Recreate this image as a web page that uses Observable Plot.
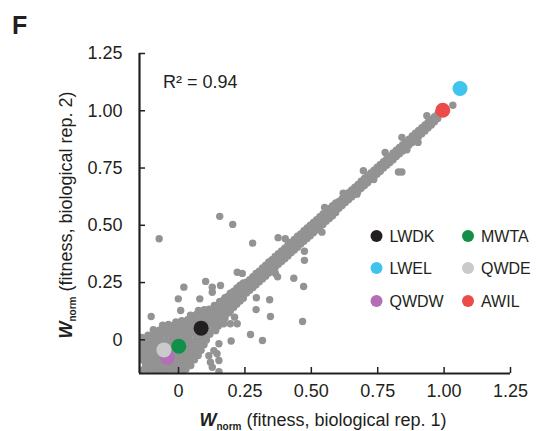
<!DOCTYPE html>
<html><head><meta charset="utf-8">
<script src="https://cdn.jsdelivr.net/npm/d3@7"></script>
<script src="https://cdn.jsdelivr.net/npm/@observablehq/plot@0.6"></script>
<style>body{margin:0;background:#fff}#chart svg{display:block}</style>
</head><body><div id="chart"></div>
<script>
// ---- data (rep1, rep2) ----
const cloud = [
[-0.135,-0.132],[-0.113,-0.130],[-0.091,-0.133],[-0.069,-0.131],[-0.047,-0.134],[-0.025,-0.130],[-0.003,-0.132],[0.019,-0.131],[0.028,-0.128],
[-0.124,-0.110],[-0.102,-0.112],[-0.080,-0.108],[-0.058,-0.111],[-0.036,-0.109],[-0.014,-0.112],[0.008,-0.110],[0.030,-0.108],[0.046,-0.112],
[-0.135,-0.088],[-0.113,-0.090],[-0.091,-0.086],[-0.069,-0.089],[-0.047,-0.087],[-0.025,-0.090],[-0.003,-0.088],[0.019,-0.086],[0.041,-0.089],[0.060,-0.087],
[-0.140,-0.060],[-0.124,-0.066],[-0.102,-0.064],[-0.080,-0.067],[-0.058,-0.065],[-0.036,-0.068],[-0.014,-0.066],[0.008,-0.064],[0.030,-0.067],[0.052,-0.065],[0.074,-0.068],
[-0.135,-0.044],[-0.113,-0.046],[-0.091,-0.043],[-0.069,-0.045],[-0.047,-0.042],[-0.025,-0.046],[-0.003,-0.044],[0.019,-0.042],[0.041,-0.045],[0.063,-0.043],[0.085,-0.046],
[-0.140,-0.018],[-0.124,-0.022],[-0.102,-0.020],[-0.080,-0.023],[-0.058,-0.021],[-0.036,-0.024],[-0.014,-0.022],[0.008,-0.020],[0.030,-0.023],[0.052,-0.021],[0.074,-0.024],[0.096,-0.022],
[-0.135,0.000],[-0.113,-0.002],[-0.091,0.002],[-0.069,0.000],[-0.047,-0.002],[-0.025,0.001],[-0.003,-0.001],[0.019,0.002],[0.041,0.000],[0.063,-0.002],[0.085,0.001],[0.105,-0.001],
[-0.138,0.010],[-0.115,0.020],[-0.093,0.023],[-0.071,0.021],[-0.049,0.024],[-0.027,0.022],[-0.005,0.020],[0.017,0.023],[0.039,0.021],[0.061,0.024],[0.083,0.022],[0.105,0.020],[0.118,0.024],
[-0.095,0.044],[-0.073,0.042],[-0.051,0.046],[-0.029,0.043],[-0.007,0.045],[0.015,0.042],[0.037,0.046],[0.059,0.043],[0.081,0.045],[0.103,0.042],[0.124,0.046],
[-0.060,0.064],[-0.038,0.067],[-0.016,0.065],[0.006,0.068],[0.028,0.064],[0.050,0.066],[0.072,0.068],[0.094,0.065],[0.116,0.067],[0.132,0.064],
[-0.010,0.078],[0.012,0.084],[0.034,0.088],[0.056,0.090],[0.078,0.087],[0.100,0.089],[0.122,0.086],[0.138,0.090],
[0.045,0.108],[0.067,0.111],[0.089,0.109],[0.111,0.112],[0.133,0.110],[0.150,0.112],
[0.075,0.128],[0.097,0.131],[0.119,0.129],[0.141,0.132],[0.160,0.135],
[0.140,0.040],[0.150,0.060],[0.162,0.075],[0.175,0.095],[0.190,0.118]
];
const band = [
[0.100,0.030],[0.100,0.055],[0.100,0.080],[0.100,0.102],
[0.112,0.044],[0.112,0.066],[0.112,0.092],[0.112,0.114],
[0.124,0.052],[0.124,0.080],[0.124,0.103],[0.124,0.128],
[0.136,0.068],[0.136,0.092],[0.136,0.118],[0.136,0.138],
[0.148,0.078],[0.148,0.104],[0.148,0.128],[0.148,0.152],
[0.160,0.092],[0.160,0.118],[0.160,0.140],[0.160,0.162],
[0.172,0.104],[0.172,0.130],[0.172,0.152],[0.172,0.176],
[0.184,0.118],[0.184,0.142],[0.184,0.166],[0.184,0.188],
[0.196,0.128],[0.196,0.155],[0.196,0.178],[0.196,0.200],
[0.208,0.142],[0.208,0.168],[0.208,0.192],[0.208,0.212],
[0.220,0.156],[0.220,0.180],[0.220,0.204],[0.220,0.226],
[0.232,0.170],[0.232,0.192],[0.232,0.216],[0.232,0.238],
[0.244,0.182],[0.244,0.205],[0.244,0.228],[0.244,0.248],
[0.095,0.120],[0.115,0.134],[0.135,0.150],[0.155,0.168],[0.175,0.184],[0.195,0.204],
[0.256,0.204],[0.256,0.226],[0.256,0.252],
[0.268,0.216],[0.268,0.240],[0.268,0.262],
[0.280,0.228],[0.280,0.255],[0.280,0.276],
[0.292,0.240],[0.292,0.264],[0.292,0.290],
[0.304,0.254],[0.304,0.280],[0.304,0.300],
[0.316,0.266],[0.316,0.290],[0.316,0.314],
[0.328,0.278],[0.328,0.305],[0.328,0.326],
[0.340,0.292],[0.340,0.316],[0.340,0.340],
[0.352,0.304],[0.352,0.330],[0.352,0.350],
[0.364,0.316],[0.364,0.340],[0.364,0.364],
[0.376,0.330],[0.376,0.352],[0.376,0.376],
[0.388,0.342],[0.388,0.366],[0.388,0.388],
[0.400,0.354],[0.400,0.378],[0.400,0.400],
[0.412,0.366],[0.412,0.392],[0.412,0.414],
[0.424,0.380],[0.424,0.402],[0.424,0.426],
[0.436,0.392],[0.436,0.416],[0.436,0.438],
[0.448,0.404],[0.448,0.428],[0.448,0.452],
[0.460,0.418],[0.460,0.440],[0.460,0.462],
[0.472,0.430],[0.472,0.454],[0.472,0.476],
[0.484,0.442],[0.484,0.466],[0.484,0.488],
[0.496,0.454],[0.496,0.478],[0.496,0.500],
[0.508,0.468],[0.508,0.490],[0.508,0.512],
[0.520,0.480],[0.520,0.504],[0.520,0.524],
[0.532,0.492],[0.532,0.516],[0.532,0.538],
[0.544,0.504],[0.544,0.528],[0.544,0.550],
[0.556,0.518],[0.556,0.540],[0.556,0.562],
[0.568,0.530],[0.568,0.552],[0.568,0.574],
[0.580,0.542],[0.580,0.566],[0.580,0.586],
[0.592,0.556],[0.592,0.578],[0.592,0.598],
[0.604,0.574],[0.604,0.604],[0.616,0.586],[0.616,0.616],
[0.628,0.600],[0.628,0.628],[0.640,0.612],[0.640,0.642],
[0.652,0.624],[0.652,0.654],[0.664,0.636],[0.664,0.666],
[0.676,0.650],[0.676,0.678],[0.688,0.662],[0.688,0.692],
[0.700,0.674],[0.700,0.704],[0.712,0.686],[0.712,0.716],
[0.724,0.700],[0.724,0.728],[0.736,0.712],[0.736,0.740],
[0.748,0.724],[0.748,0.754],[0.760,0.736],[0.760,0.766],
[0.772,0.750],[0.772,0.778],[0.784,0.762],[0.784,0.790],
[0.796,0.774],[0.796,0.802],[0.808,0.786],[0.808,0.816],
[0.820,0.800],[0.820,0.828],[0.832,0.812],[0.832,0.840],
[0.844,0.824],[0.844,0.852],[0.856,0.838],[0.856,0.864],
[0.868,0.850],[0.868,0.876],[0.880,0.862],[0.880,0.890],
[0.892,0.874],[0.892,0.902],[0.904,0.888],[0.904,0.914],
[0.916,0.900],[0.916,0.926],[0.928,0.912],[0.928,0.938],
[0.940,0.926],[0.940,0.950],[0.952,0.938],[0.952,0.962],
[0.964,0.952],[0.964,0.974],[0.976,0.966],[0.976,0.986],
[0.696,0.738],[0.778,0.818],[0.841,0.884],[0.935,0.978],[0.672,0.636],[0.902,0.862],
[0.620,0.640],[0.550,0.578],[0.735,0.700],[0.860,0.830],[0.221,0.295],[0.240,0.290],
[0.365,0.290],[0.373,0.275]
];
const outliers = [
[-0.073,0.441],[0.155,0.539],[0.204,0.504],[0.279,0.422],[0.375,0.446],[0.402,0.441],
[0.474,0.387],[0.474,0.347],[0.434,0.269],[0.471,0.233],[0.467,0.080],[0.293,0.184],
[0.343,0.175],[0.292,0.132],[0.346,0.102],[0.316,-0.003],[0.271,0.023],[0.102,0.255],
[0.127,0.230],[0.158,0.237],[0.127,0.208],[0.020,0.230],[-0.001,0.179],[0.080,0.179],
[0.008,0.128],[-0.103,0.102],[0.211,0.099],[0.152,0.077],[0.170,0.070],[0.195,0.070],
[0.221,0.070],[0.152,-0.017],[0.198,-0.005],[0.133,-0.047],[0.145,-0.061],[0.114,-0.069],
[0.152,-0.090],[0.120,-0.098],[0.127,-0.120],[0.152,-0.139],[0.540,0.470],
[0.828,0.733],[0.841,0.733],[1.033,1.024]
];
const highlightNames = ["QWDW", "QWDE", "MWTA", "LWDK", "AWIL", "LWEL"];
const highlightRep1 = [-0.042, -0.055, 0.001, 0.085, 0.995, 1.060];
const highlightRep2 = [-0.076, -0.044, -0.028, 0.051, 1.002, 1.097];
const highlightColors = ["#b26fb6", "#c9cacc", "#11904a", "#231f20", "#ec4b4a", "#3fc4ee"];
const legendOrder = ["LWDK", "MWTA", "LWEL", "QWDE", "QWDW", "AWIL"];
const xTicks = [0, 0.25, 0.5, 0.75, 1.0, 1.25];
const yTicks = [0, 0.25, 0.5, 0.75, 1.0, 1.25];
const domainMin = -0.147, domainMax = 1.25;
const r2Label = "R² = 0.94";

// ---- chart ----
const gray = cloud.concat(band, outliers);
const highlights = highlightNames.map((n, i) => ({name: n, x: highlightRep1[i], y: highlightRep2[i], c: highlightColors[i]}));
const fmt = d => d === 0 ? "0" : d.toFixed(2);
const ink = "#231f20";
const font = "'Liberation Sans', Arial, Helvetica, sans-serif";

const chart = Plot.plot({
  width: 536, height: 431,
  marginLeft: 139, marginRight: 26, marginTop: 53, marginBottom: 58,
  x: {domain: [domainMin, domainMax]},
  y: {domain: [domainMin, domainMax]},
  style: {fontFamily: font, fontSize: "18px", color: ink, background: "#fff", overflow: "visible"},
  marks: [
    Plot.dot(gray, {x: d => d[0], y: d => d[1], r: 3.7, fill: "#939393", clip: true}),
    Plot.dot(highlights, {x: "x", y: "y", r: 7.5, fill: "c"}),
    Plot.axisX(xTicks, {tickSize: 0, tickPadding: 11, tickFormat: fmt, fontSize: 18, fill: ink, label: null}),
    Plot.axisY(yTicks, {tickSize: 0, tickPadding: 17, tickFormat: fmt, fontSize: 18, fill: ink, label: null}),
    Plot.tickX(xTicks, {x: d => d, insetTop: 314, stroke: ink, strokeWidth: 1.5}),
    Plot.tickY(yTicks, {y: d => d, insetRight: 365, stroke: ink, strokeWidth: 1.5}),
    Plot.ruleY([domainMin], {stroke: ink, strokeWidth: 2.2}),
    Plot.ruleX([domainMin], {stroke: ink, strokeWidth: 2.2})
  ]
});
document.getElementById("chart").appendChild(chart);

const svg = d3.select(chart);
svg.append("text").attr("x", 12).attr("y", 34).attr("text-anchor", "start").attr("font-family", font)
  .attr("font-size", 25).attr("font-weight", "bold").attr("fill", ink).text("F");
svg.append("text").attr("x", 163).attr("y", 88).attr("text-anchor", "start").attr("font-family", font)
  .attr("font-size", 18).attr("fill", ink).text(r2Label);

function wnorm(sel, rest) {
  sel.append("tspan").attr("font-weight", "bold").attr("font-style", "italic").text("W");
  sel.append("tspan").attr("font-weight", "bold").attr("font-size", 10).attr("dy", 4).text("norm");
  sel.append("tspan").attr("dy", -4).text(" " + rest);
}
const xt = svg.append("text").attr("x", 323).attr("y", 426).attr("text-anchor", "middle")
  .attr("font-family", font).attr("font-size", 18).attr("fill", ink);
wnorm(xt, "(fitness, biological rep. 1)");
const yt = svg.append("text").attr("transform", "translate(72,215) rotate(-90)").attr("text-anchor", "middle")
  .attr("font-family", font).attr("font-size", 18).attr("fill", ink);
wnorm(yt, "(fitness, biological rep. 2)");

// legend
const colX = [376.5, 468], rowY = [236, 268, 301];
legendOrder.forEach((name, i) => {
  const h = highlights.find(d => d.name === name);
  const cx = colX[i % 2], cy = rowY[Math.floor(i / 2)];
  svg.append("circle").attr("cx", cx).attr("cy", cy).attr("r", 6).attr("fill", h.c);
  svg.append("text").attr("x", cx + 13).attr("y", cy + 6).attr("text-anchor", "start").attr("font-family", font)
    .attr("font-size", 16).attr("fill", ink).text(name);
});
</script></body></html>
